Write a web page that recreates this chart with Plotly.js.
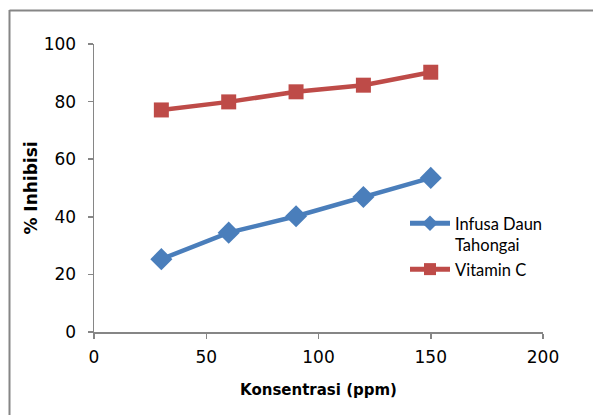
<!DOCTYPE html>
<html>
<head>
<meta charset="utf-8">
<script src="https://cdn.plot.ly/plotly-3.0.1.min.js"></script>
<style>html,body{margin:0;padding:0;background:#fff;}#chart{width:593px;height:415px;}</style>
</head>
<body>
<div id="chart"></div>
<script>
const konsentrasi = [30, 60, 90, 120, 150];
const infusaDaun = [25.3, 34.5, 40.2, 46.9, 53.5];
const vitaminC = [77.1, 79.9, 83.4, 85.7, 90.2];
const seriesNames = ['Infusa Daun<br>Tahongai', 'Vitamin C'];
const xTicks = [0, 50, 100, 150, 200];
const yTicks = [0, 20, 40, 60, 80, 100];

const W = 593, H = 415, L = 94, R = 50, T = 44, B = 83;
const pw = W - L - R, ph = H - T - B;
const px = v => (v - L) / pw;
const py = v => (H - B - v) / ph;

const tickFam = '"DejaVu Sans", sans-serif';
const legFam = 'Lato, "Open Sans", sans-serif';

const traces = [
  {x: konsentrasi, y: infusaDaun, name: seriesNames[0], type: 'scatter', mode: 'lines+markers',
   line: {color: '#4A7EBB', width: 4.5}, marker: {symbol: 'diamond', size: 17, color: '#4A7EBB'}},
  {x: konsentrasi, y: vitaminC, name: seriesNames[1], type: 'scatter', mode: 'lines+markers',
   line: {color: '#BE4B48', width: 4.5}, marker: {symbol: 'square', size: 15, color: '#BE4B48'}}
];

const axisCommon = {
  showgrid: false, zeroline: false, showline: true, linecolor: '#868686', linewidth: 1.5,
  ticks: 'outside', ticklen: 5, tickcolor: '#868686', tickwidth: 1.5,
  tickfont: {family: tickFam, size: 17, color: '#000'}
};

const layout = {
  width: W, height: H,
  margin: {l: L, r: R, t: T, b: B},
  paper_bgcolor: '#fff', plot_bgcolor: '#fff',
  showlegend: true,
  legend: {x: px(405), y: py(206), xanchor: 'left', yanchor: 'top', valign: 'top',
           font: {family: legFam, size: 16.5, color: '#000'}, bgcolor: 'rgba(0,0,0,0)',
           itemsizing: 'constant', itemwidth: 40, tracegroupgap: 0},
  xaxis: Object.assign({}, axisCommon, {range: [0, 200], tickvals: xTicks, ticktext: xTicks.map(String),
    ticklabelstandoff: 4,
    title: {text: 'Konsentrasi (ppm)', font: {family: tickFam, size: 15, color: '#000', weight: 'bold'}, standoff: 18}}),
  yaxis: Object.assign({}, axisCommon, {range: [0, 100], tickvals: yTicks, ticktext: yTicks.map(String),
    ticklabelstandoff: 8,
    title: {text: '% Inhibisi', font: {family: tickFam, size: 17, color: '#000', weight: 'bold'}, standoff: 1}}),
  shapes: [
    {type: 'line', xref: 'paper', yref: 'paper', x0: px(9.5), x1: px(9.5), y0: py(10), y1: py(420), line: {color: '#868686', width: 2}},
    {type: 'line', xref: 'paper', yref: 'paper', x0: px(9.5), x1: px(600), y0: py(10.5), y1: py(10.5), line: {color: '#868686', width: 2}}
  ]
};

Plotly.newPlot('chart', traces, layout, {displayModeBar: false, staticPlot: true});
</script>
</body>
</html>
